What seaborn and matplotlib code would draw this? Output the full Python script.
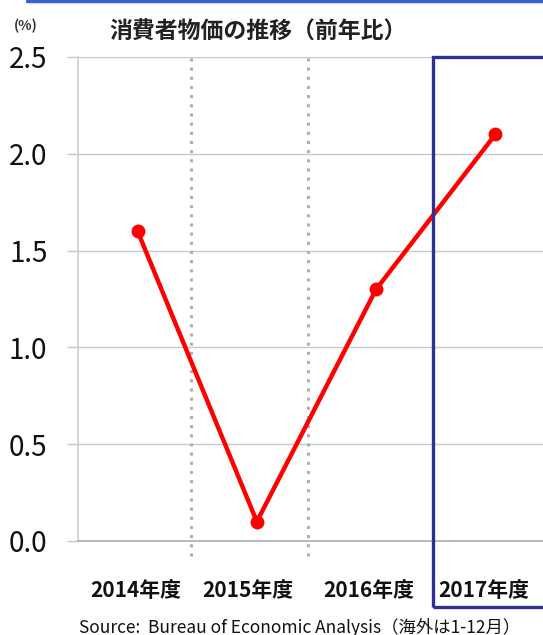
import matplotlib
matplotlib.use("Agg")
import matplotlib.pyplot as plt
import matplotlib.transforms as mtransforms
import seaborn as sns
from matplotlib.patches import Rectangle
from matplotlib.lines import Line2D

sns.set_theme(style="white")
plt.rcParams['font.family'] = ['Noto Sans CJK JP', 'DejaVu Sans']

# データ
years = ['2014年度', '2015年度', '2016年度', '2017年度']
cpi = [1.6, 0.1, 1.3, 2.1]
y_ticks = [0.0, 0.5, 1.0, 1.5, 2.0, 2.5]

TITLE = '消費者物価の推移（前年比）'
SOURCE = 'Source:  Bureau of Economic Analysis（海外は1-12月）'


def main():
    fig = plt.figure(figsize=(5.43, 6.35), dpi=100)
    ax = fig.add_axes([78 / 543, 1 - 541 / 635, 1 - 78 / 543, (541 - 57) / 635])

    sns.lineplot(x=years, y=cpi, ax=ax, color='#ff0000', linewidth=3.2,
                 marker='o', markersize=10, markeredgewidth=0, sort=False, zorder=5)

    ax.set_xlim(-0.5, 3.4)
    ax.set_ylim(0, 2.5)
    ax.set_yticks(y_ticks)
    ax.set_yticklabels([f'{v:.1f}' for v in y_ticks], fontsize=20, color='#111111')
    ax.set_xticks(range(len(years)))
    ax.set_xticklabels(years, fontsize=15, fontweight='bold', color='#111111')
    ax.tick_params(axis='y', length=8, color='#c8c8c8', width=1, pad=14, left=True)
    ax.tick_params(axis='x', length=0, pad=28)
    ax.grid(axis='y', color='#c8c8c8', linewidth=1)
    ax.set_xlabel('')
    ax.set_ylabel('')

    # ラベルを少し左へ（元の図に合わせる）
    shifts = [-2, -9, -7, -12]
    for lab, dx in zip(ax.get_xticklabels(), shifts):
        lab.set_transform(lab.get_transform() +
                          mtransforms.ScaledTranslation(dx / 100, 0, fig.dpi_scale_trans))

    for s in ['top', 'right']:
        ax.spines[s].set_visible(False)
    ax.spines['left'].set_color('#d0d0d0')
    ax.spines['bottom'].set_color('#b0b0b0')

    # 区切りの点線
    for xv in [0.45, 1.43]:
        ax.axvline(xv, ymin=-0.03, ymax=1, color='#b0b0b0', linestyle=(0, (1, 2)),
                   linewidth=2.2, clip_on=False, zorder=2)

    # 2017年度の枠
    fig.patches.append(Rectangle((433 / 543, 1 - 607 / 635), 0.3, (607 - 57) / 635,
                                 transform=fig.transFigure, fill=False,
                                 edgecolor='#2e3192', linewidth=2.4, zorder=10))
    # 上部の青線
    fig.lines.append(Line2D([27 / 543, 1], [1 - 1 / 635, 1 - 1 / 635],
                            transform=fig.transFigure, color='#3a5fd0', linewidth=2.5))

    fig.text(258 / 543, 1 - 32 / 635, TITLE, ha='center', va='center',
             fontsize=16.5, fontweight='bold', color='#222222')
    fig.text(26 / 543, 1 - 26 / 635, '(%)', ha='center', va='center',
             fontsize=10, fontweight='bold', color='#333333')
    fig.text(300 / 543, 1 - 627 / 635, SOURCE, ha='center', va='center',
             fontsize=12.5, color='#111111')

    fig.savefig('out.png', dpi=100)
    plt.close(fig)


if __name__ == "__main__":
    main()
